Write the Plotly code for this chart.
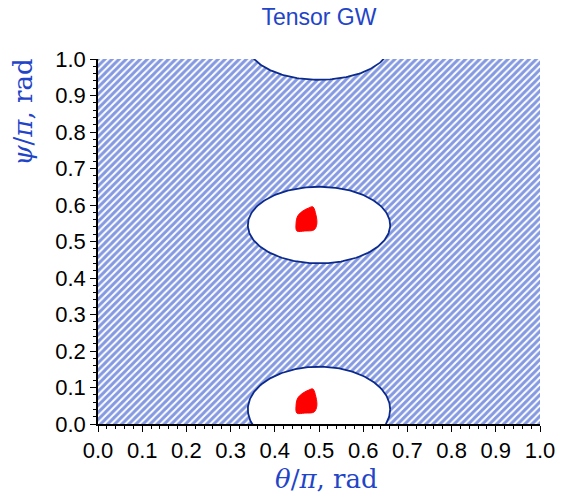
import numpy as np
import plotly.graph_objects as go

# ---- data ----
title_text = "Tensor GW"
x_ticks = [0.0, 0.1, 0.2, 0.3, 0.4, 0.5, 0.6, 0.7, 0.8, 0.9, 1.0]
y_ticks = [0.0, 0.1, 0.2, 0.3, 0.4, 0.5, 0.6, 0.7, 0.8, 0.9, 1.0]

# excluded (hatched) region = whole plane minus elliptical allowed regions
region_theta = [0.0, 1.0, 1.0, 0.0, 0.0]
region_psi = [0.0, 0.0, 1.0, 1.0, 0.0]

hole_theta_c = [0.5, 0.5, 0.5]
hole_psi_c = [0.04, 0.545, 1.04]
hole_theta_r = [0.161, 0.161, 0.161]
hole_psi_r = [0.117, 0.105, 0.097]

# red best-fit blobs
blob1_theta = [0.486, 0.493, 0.495, 0.489, 0.468, 0.450, 0.448, 0.452, 0.464, 0.477, 0.486]
blob1_psi = [0.595, 0.573, 0.548, 0.532, 0.529, 0.529, 0.548, 0.570, 0.584, 0.592, 0.595]
blob2_theta = [0.486, 0.493, 0.495, 0.489, 0.468, 0.450, 0.448, 0.452, 0.464, 0.477, 0.486]
blob2_psi = [0.096, 0.074, 0.049, 0.033, 0.030, 0.030, 0.049, 0.071, 0.085, 0.093, 0.096]

HATCH = "#0a34c4"
EDGE = "#0c2a8c"
TXT = "#1f45c8"

fig = go.Figure()

fig.add_trace(go.Scatter(
    x=region_theta, y=region_psi, mode="lines", fill="toself",
    line=dict(width=0, color=HATCH),
    fillcolor="white",
    fillpattern=dict(shape="/", fgcolor=HATCH, bgcolor="white", size=5, solidity=0.6),
    hoverinfo="skip", showlegend=False))

t = np.linspace(0, 2 * np.pi, 241)
for xc, yc, rx, ry in zip(hole_theta_c, hole_psi_c, hole_theta_r, hole_psi_r):
    fig.add_trace(go.Scatter(
        x=xc + rx * np.cos(t), y=yc + ry * np.sin(t), mode="lines",
        fill="toself", fillcolor="white",
        line=dict(color=EDGE, width=1.8),
        hoverinfo="skip", showlegend=False))

for bx, by in [(blob1_theta, blob1_psi), (blob2_theta, blob2_psi)]:
    fig.add_trace(go.Scatter(
        x=bx, y=by, mode="lines", fill="toself", fillcolor="#ff0000",
        line=dict(color="#ff0000", width=1, shape="spline"),
        hoverinfo="skip", showlegend=False))

axis_common = dict(
    showgrid=False, zeroline=False, showline=True, linecolor="black", linewidth=1.5,
    ticks="outside", ticklen=6, tickwidth=1.3, tickcolor="black",
    tickfont=dict(family="Liberation Sans, Arial, sans-serif", size=22, color="black"),
    tickformat=".1f",
    minor=dict(dtick=0.02, ticks="outside", ticklen=3, tickwidth=1, tickcolor="black"),
)

fig.update_layout(
    width=566, height=496,
    margin=dict(l=98, r=26, t=59, b=72),
    paper_bgcolor="white", plot_bgcolor="white",
    xaxis=dict(range=[0, 1], tickvals=x_ticks, **axis_common),
    yaxis=dict(range=[0, 1], tickvals=y_ticks, **axis_common),
    title=dict(text=title_text, x=0.5635, xanchor="center", y=0.966, yanchor="middle",
               font=dict(family="Liberation Sans, Arial, sans-serif", size=23, color=TXT)),
    annotations=[
        dict(text="<i>θ</i>/<i>π</i>, rad", xref="paper", yref="paper",
             x=0.516, y=-0.15, xanchor="center", yanchor="middle", showarrow=False,
             font=dict(family="DejaVu Serif", size=26, color=TXT)),
        dict(text="<i>ψ</i>/<i>π</i>, rad", xref="paper", yref="paper",
             x=-0.17, y=0.855, xanchor="center", yanchor="middle", showarrow=False,
             textangle=-90,
             font=dict(family="DejaVu Serif", size=26, color=TXT)),
    ],
)

fig.write_html("out.html")
